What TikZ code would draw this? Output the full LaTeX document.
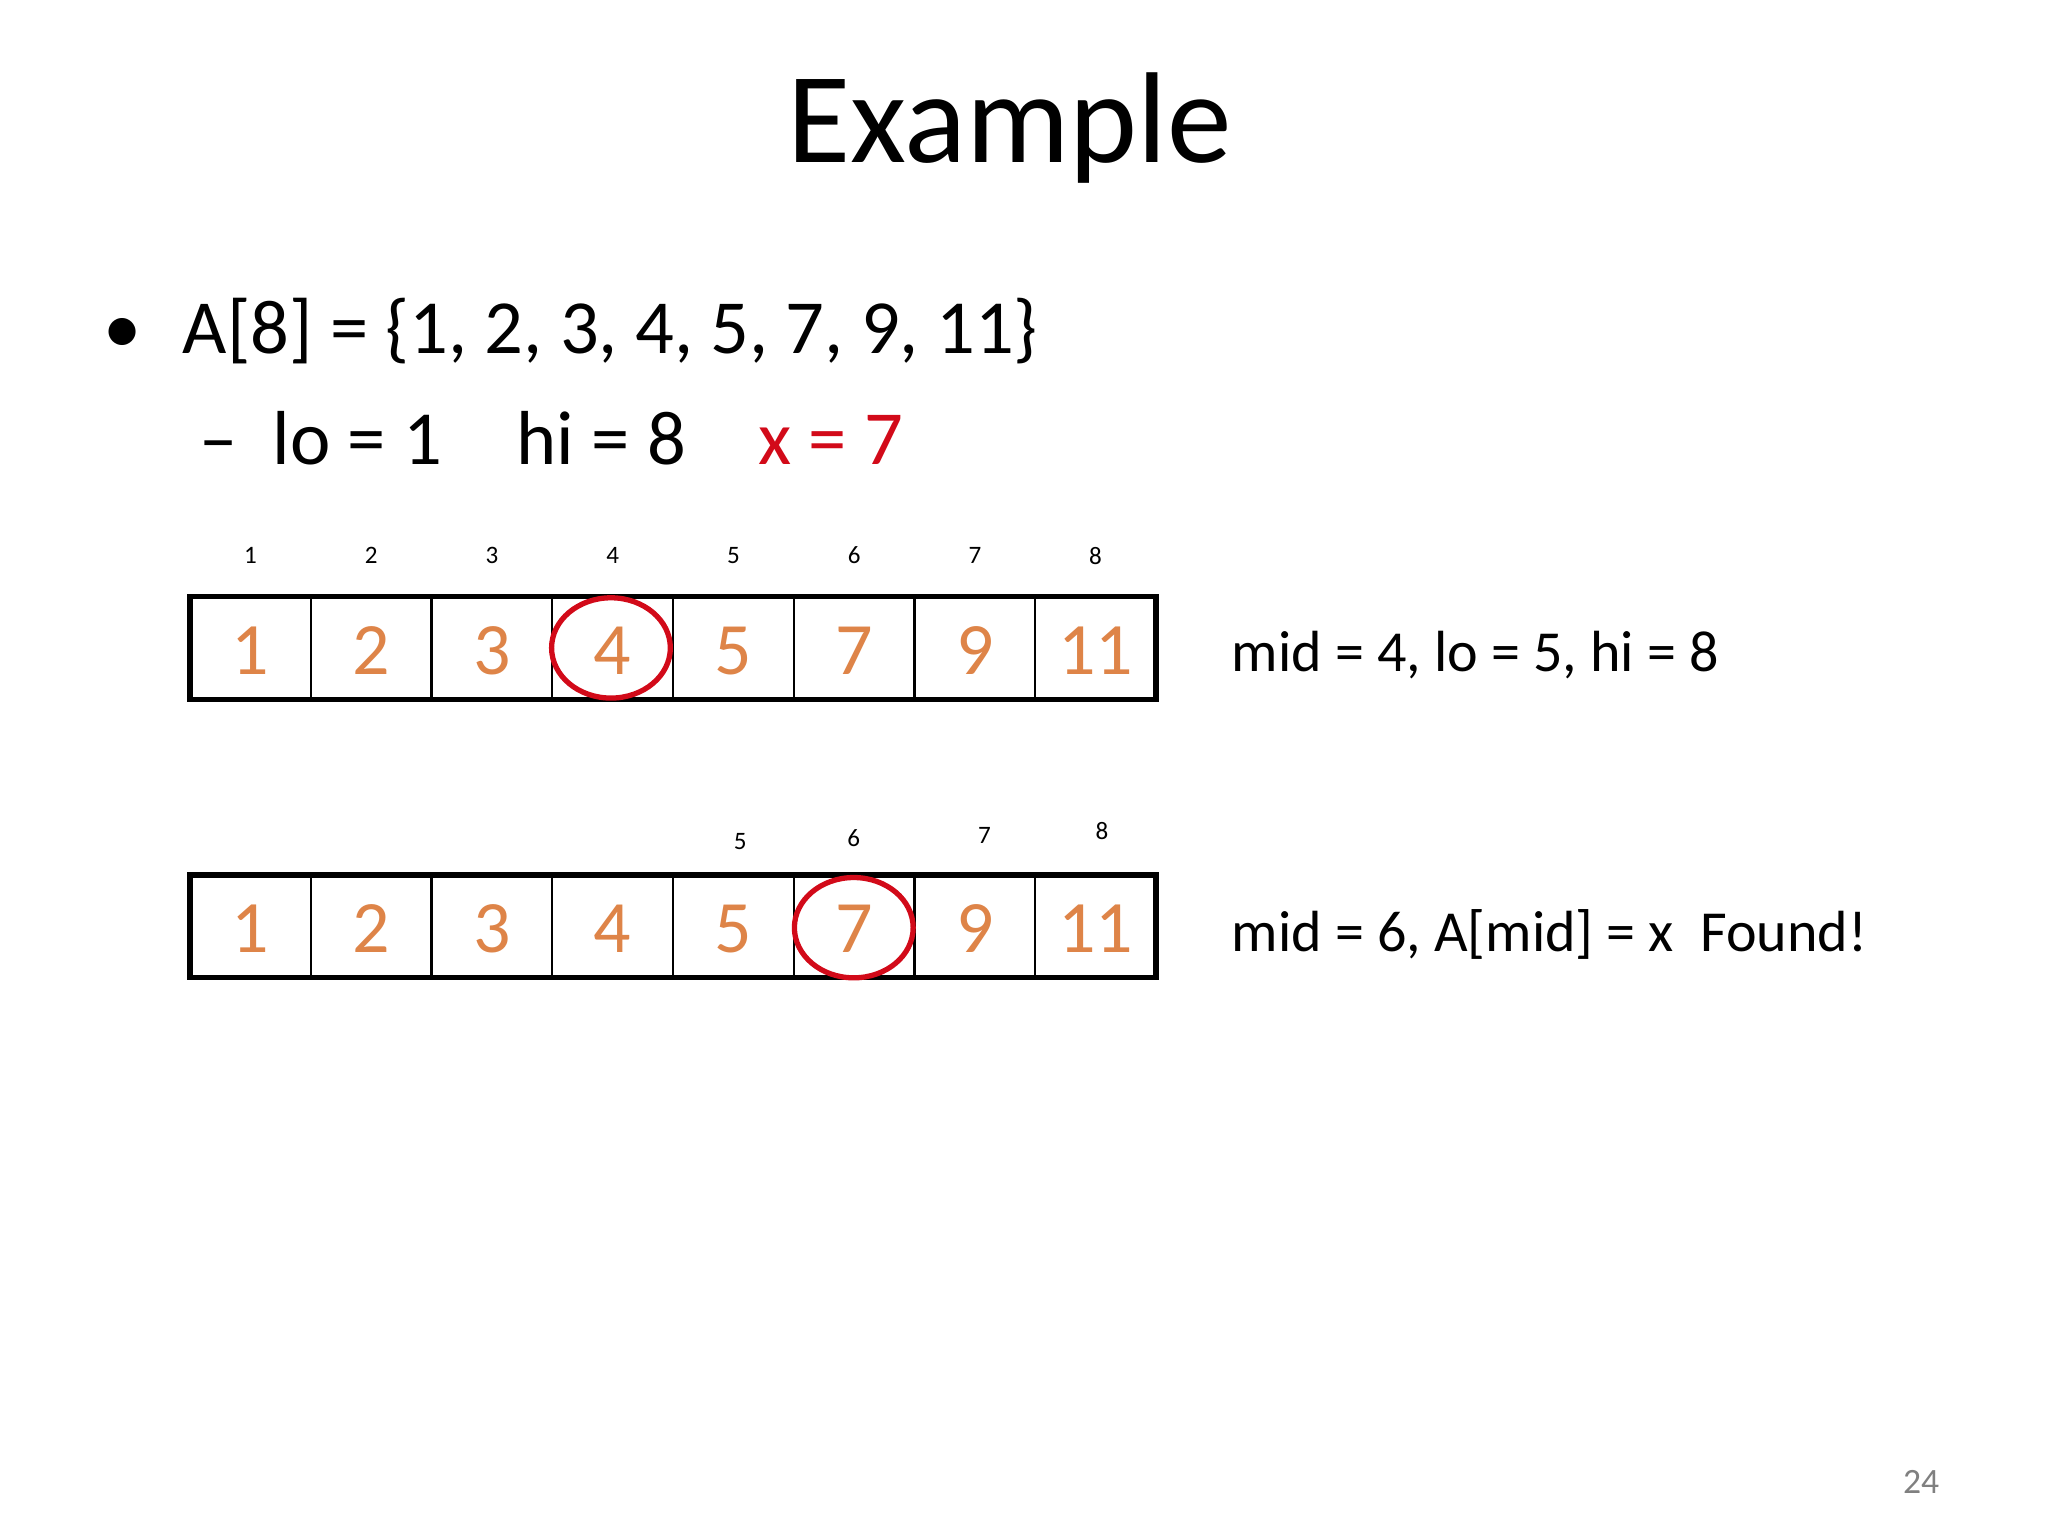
\documentclass[tikz,border=0pt]{standalone}
\usepackage{fontspec}
\setmainfont{Carlito}
\definecolor{org}{RGB}{222,132,72}
\definecolor{rd}{RGB}{210,10,25}
\begin{document}
\begin{tikzpicture}[x=1pt,y=-1pt,
  idx/.style={font=\fontsize{19}{20}\selectfont},
  dig/.style={font=\fontsize{56}{60}\selectfont,text=org},
  big/.style={anchor=base west,font=\fontsize{58}{62}\selectfont},
  lab/.style={anchor=base west,font=\fontsize{44}{48}\selectfont},
  circ/.style={draw=rd,line width=4pt,ellipse}]
\fill[white] (0,0) rectangle (1552,1164);
\useasboundingbox (0,0) rectangle (1552,1164);
\node (title) at (765,97) {\fontsize{98}{100}\selectfont Example};
\node[big] (bul) at (75,268) {•};
\node[big] (arr) at (135,268) {A[8] = \{1, 2, 3, 4, 5, 7, 9, 11\}};
\node[big] (dash) at (148,352) {–};
\node[big] (lo) at (203,352) {lo = 1};
\node[big] (hi) at (388,352) {hi = 8};
\node[big,text=rd] (x) at (571,352) {x = 7};
\foreach \r/\y in {1/491,2/702}{
  \foreach \v [count=\i] in {1,2,3,4,5,7,9,11}{
    \node[dig] (d\r\i) at ({144+91.5*(\i-0.5)},\y+2) {\v};
  }
  \foreach \i in {1,...,7}{\draw[line width=1.6pt] ({144+91.5*\i},\y-39) -- ({144+91.5*\i},\y+39);}
  \draw[line width=4pt] (144,\y-39) rectangle (876,\y+39);
}
\foreach \i in {1,...,8}{\node[idx] (i1\i) at ({144+91.5*(\i-0.5)},421) {\i};}
\node[idx] (i25) at (561,638) {5};
\node[idx] (i26) at (647,635) {6};
\node[idx] (i27) at (746,633) {7};
\node[idx] (i28) at (835,630) {8};
\draw[draw=rd,line width=4pt] (463,491) ellipse (45 and 38);
\draw[draw=rd,line width=4pt] (647,703) ellipse (45 and 38);
\node[lab] (l1) at (930,509) {mid = 4, lo = 5, hi = 8};
\node[lab] (l2) at (930,721) {mid = 6, A[mid] = x\ \ Found!};
\node[anchor=base east,text=gray,font=\fontsize{27}{30}\selectfont] (pg) at (1473,1132) {24};
\end{tikzpicture}
\end{document}
